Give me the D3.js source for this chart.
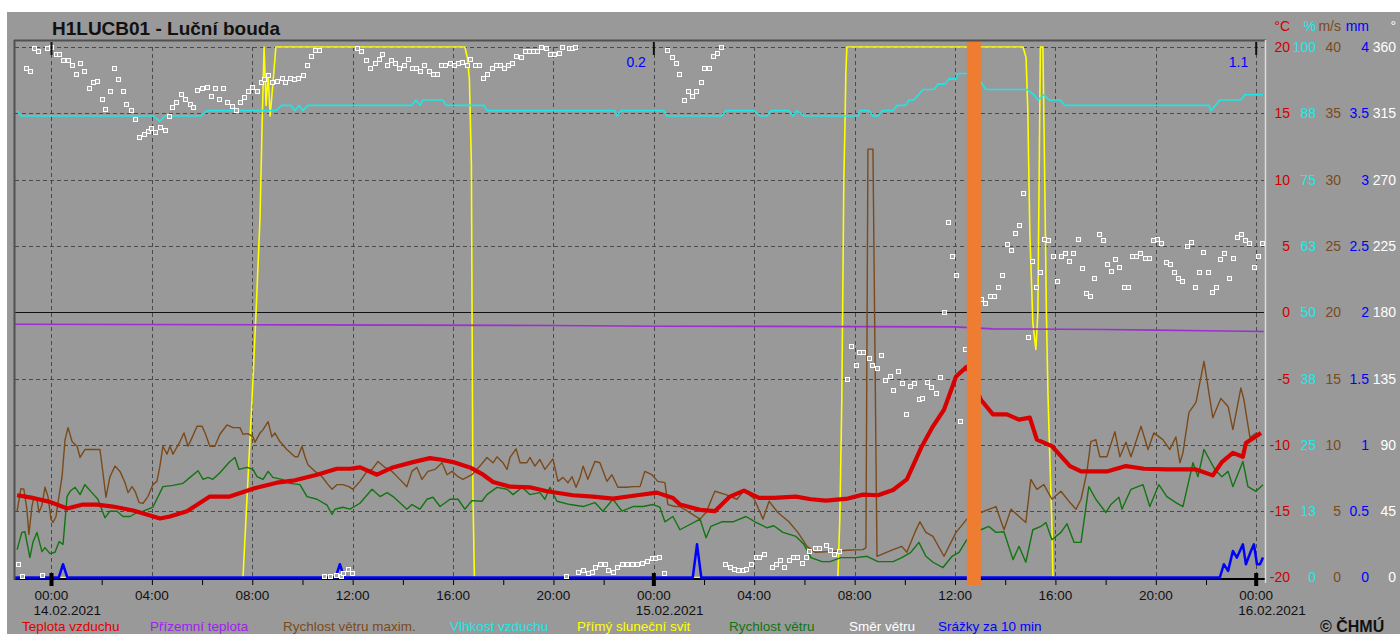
<!DOCTYPE html>
<html>
<head>
<meta charset="utf-8">
<script src="https://cdn.jsdelivr.net/npm/d3@7"></script>
<style>
html, body { margin: 0; padding: 0; background: #fff; }
svg { display: block; font-family: "Liberation Sans", Arial, sans-serif; }
</style>
</head>
<body>
<div id="chart"></div>
<script>
// data: [hours from 14.02.2021 00:00, value]
const airTemp = [[-1.37,-13.8],[-0.74,-14.0],[-0.06,-14.3],[0.62,-14.8],[1.25,-14.5],[1.81,-14.5],[2.45,-14.65],[3.25,-14.95],[3.8,-15.25],[4.32,-15.55],[4.72,-15.4],[5.4,-15.0],[6.31,-13.9],[7.1,-13.9],[8.03,-13.3],[8.98,-12.85],[9.62,-12.7],[10.58,-12.25],[11.37,-11.8],[11.9,-11.8],[12.3,-11.7],[12.97,-12.25],[13.6,-11.7],[14.4,-11.3],[15.08,-11.0],[15.48,-11.1],[16.0,-11.3],[16.67,-11.7],[17.2,-12.25],[17.59,-12.8],[18.27,-13.15],[19.06,-13.2],[19.74,-13.5],[20.78,-13.8],[21.57,-13.9],[22.37,-14.05],[23.33,-13.8],[24.12,-13.6],[24.76,-14.0],[25.04,-14.5],[25.84,-14.9],[26.43,-15.0],[27.03,-13.9],[27.59,-13.45],[28.19,-14.0],[28.78,-14.0],[29.66,-13.9],[30.26,-14.1],[30.86,-14.2],[31.73,-14.05],[32.33,-13.75],[32.93,-13.8],[33.53,-13.4],[34.08,-12.6],[34.68,-10.1],[35.12,-8.6],[35.56,-7.35],[36.04,-4.85],[36.47,-4.1],[37.03,-6.6],[37.51,-7.7],[38.07,-7.7],[38.55,-8.1],[38.98,-7.95],[39.26,-9.6],[39.86,-10.1],[40.58,-11.6],[41.02,-12.0],[42.05,-12.0],[42.81,-11.6],[43.53,-11.8],[44.44,-11.85],[45.6,-11.85],[46.27,-12.3],[46.63,-11.3],[47.07,-10.6],[47.47,-10.9],[47.59,-9.85],[48.19,-9.1]];

const groundTemp = [[-1.45,-0.9],[10,-0.95],[20,-1.0],[24,-1.05],[36,-1.1],[37.5,-1.25],[42,-1.3],[44,-1.35],[46,-1.4],[48.3,-1.45]];

const windMax = [[-1.37,5.0],[-1.22,6.7],[-1.1,6.65],[-0.98,5.15],[-0.9,3.25],[-0.78,5.35],[-0.7,6.1],[-0.58,5.9],[-0.5,4.9],[-0.38,5.45],[-0.26,6.8],[-0.14,6.1],[-0.02,4.4],[0.06,4.15],[0.18,4.6],[0.26,5.65],[0.42,7.6],[0.54,10.4],[0.66,11.3],[0.82,10.25],[1.02,9.9],[1.14,9.05],[1.33,9.65],[1.93,9.65],[2.05,7.9],[2.17,6.05],[2.33,7.6],[2.53,8.4],[2.73,8.0],[2.93,7.15],[3.05,6.4],[3.21,6.85],[3.33,6.5],[3.49,5.65],[3.65,5.6],[3.84,6.1],[4.04,7.0],[4.2,7.25],[4.32,8.4],[4.44,9.9],[4.6,9.3],[4.72,9.9],[4.84,9.3],[5.12,10.25],[5.28,10.9],[5.44,9.9],[5.6,10.55],[5.8,11.4],[6.0,11.4],[6.12,10.9],[6.31,9.9],[6.51,9.9],[6.71,10.8],[6.99,11.5],[7.23,11.3],[7.51,11.3],[7.63,10.8],[7.83,10.85],[8.03,10.6],[8.11,10.2],[8.31,10.9],[8.43,11.15],[8.63,11.75],[8.78,10.6],[8.9,10.9],[9.1,10.25],[9.38,9.65],[9.7,9.1],[9.82,9.1],[9.98,9.9],[10.1,9.1],[10.22,8.5],[10.5,8.0],[10.78,7.6],[11.02,7.0],[11.18,6.65],[11.37,7.0],[11.61,7.0],[11.85,6.85],[12.01,6.65],[12.29,7.25],[12.57,8.0],[12.77,8.15],[13.01,8.75],[13.29,8.3],[13.57,8.0],[13.8,7.55],[14.16,6.85],[14.36,8.0],[14.56,8.3],[14.76,7.4],[15.0,8.0],[15.28,8.15],[15.56,8.65],[15.76,7.75],[15.96,8.0],[16.2,7.6],[16.39,7.4],[16.75,7.75],[17.07,8.4],[17.35,9.05],[17.59,8.65],[17.75,9.1],[17.99,8.65],[18.15,8.15],[18.27,9.05],[18.51,9.7],[18.67,8.65],[18.94,8.65],[19.06,9.05],[19.26,8.4],[19.46,8.9],[19.66,8.15],[19.98,8.95],[20.18,7.25],[20.38,7.55],[20.58,7.15],[20.74,7.6],[20.9,6.8],[21.06,7.55],[21.18,8.4],[21.37,7.4],[21.65,8.75],[21.85,8.65],[22.13,7.25],[22.33,7.75],[22.57,6.8],[22.93,6.8],[23.17,6.85],[23.45,6.85],[23.64,8.0],[23.92,7.75],[24.16,7.25],[24.44,7.15],[24.56,5.5],[24.84,5.35],[25.04,5.35],[25.84,4.4],[26.08,4.9],[26.43,6.5],[26.87,6.25],[27.31,5.9],[27.59,6.55],[27.99,5.95],[28.35,4.4],[28.59,5.75],[28.94,4.9],[29.38,4.2],[29.74,3.4],[30.1,2.35],[30.42,1.9],[31.02,1.95],[31.73,2.05],[32.33,2.1],[32.45,2.25],[32.53,32.3],[32.73,32.3],[32.89,1.6],[33.53,2.1],[33.88,2.35],[34.08,1.9],[34.4,3.4],[34.6,4.2],[34.84,3.4],[35.12,3.1],[35.56,1.6],[36.04,3.4],[36.47,4.4],[37.03,4.9],[37.63,5.35],[37.95,3.6],[38.23,5.15],[38.55,4.6],[38.82,4.15],[39.02,7.4],[39.26,6.65],[39.54,7.0],[39.86,5.9],[40.22,6.5],[40.58,5.65],[40.82,5.15],[41.02,5.9],[41.25,7.9],[41.41,10.25],[41.61,10.4],[41.77,9.1],[42.05,9.1],[42.37,11.0],[42.57,9.1],[42.81,10.2],[43.01,9.1],[43.41,11.4],[43.69,9.65],[43.92,10.9],[44.28,10.4],[44.56,9.65],[44.8,10.6],[44.96,8.65],[45.08,9.4],[45.32,12.45],[45.6,13.2],[45.92,16.3],[46.27,12.05],[46.59,13.5],[46.88,12.9],[47.07,11.15],[47.39,14.3],[47.51,13.4],[47.75,10.55],[47.99,10.9]];

const windSpeed = [[-1.37,2.1],[-1.18,3.4],[-1.06,3.45],[-0.86,1.5],[-0.74,2.65],[-0.58,3.4],[-0.38,1.95],[-0.26,2.25],[-0.06,1.8],[0.14,1.9],[0.3,2.7],[0.46,2.5],[0.62,6.1],[0.74,6.5],[0.94,6.8],[1.14,6.25],[1.33,7.0],[1.61,6.4],[1.85,5.9],[2.13,4.5],[2.33,5.0],[2.61,5.0],[2.85,4.6],[3.13,4.6],[3.41,4.9],[3.65,5.0],[4.04,5.3],[4.44,6.85],[4.84,6.95],[5.24,7.1],[5.52,7.55],[5.84,8.05],[6.04,7.4],[6.24,7.55],[6.43,7.4],[6.71,7.9],[7.11,8.75],[7.31,9.05],[7.47,8.15],[7.79,8.3],[8.03,8.15],[8.19,7.6],[8.43,7.4],[8.63,8.0],[8.82,7.55],[9.18,7.4],[9.5,7.1],[9.9,7.0],[10.18,6.1],[10.58,5.9],[10.98,5.45],[11.18,4.75],[11.29,5.15],[11.61,5.3],[11.89,5.15],[12.29,5.6],[12.77,6.65],[13.09,6.1],[13.37,6.4],[13.61,6.1],[14.16,5.15],[14.36,5.5],[14.68,5.15],[14.96,5.9],[15.2,6.05],[15.48,5.35],[15.88,5.9],[16.2,5.9],[16.47,5.15],[16.75,5.8],[17.15,5.75],[17.35,6.25],[17.75,6.8],[18.15,6.65],[18.39,6.25],[18.75,6.8],[19.06,6.25],[19.46,6.4],[19.66,5.9],[19.86,6.8],[20.14,5.75],[20.66,5.5],[21.18,5.35],[21.65,5.65],[21.97,5.0],[22.37,5.9],[22.73,5.0],[23.17,5.35],[23.57,5.35],[23.96,5.5],[24.24,5.3],[24.44,4.2],[24.76,4.6],[25.04,3.6],[25.84,4.4],[26.08,3.0],[26.27,3.85],[26.71,4.2],[27.15,4.2],[27.67,4.6],[28.07,4.15],[28.51,3.75],[28.78,3.9],[29.14,3.4],[29.66,3.1],[29.98,2.5],[30.26,1.5],[30.7,1.2],[31.02,1.2],[31.45,1.5],[32.05,1.5],[32.49,1.6],[32.93,1.2],[33.53,1.2],[33.88,1.5],[34.24,1.9],[34.56,2.65],[34.84,1.6],[35.12,1.15],[35.52,0.75],[35.88,1.6],[36.16,1.9],[36.47,2.85],[37.03,3.6],[37.35,3.85],[37.63,3.4],[37.95,3.45],[38.31,1.35],[38.55,2.35],[38.82,1.15],[39.1,3.6],[39.42,3.85],[39.62,4.15],[39.86,2.85],[40.22,3.4],[40.46,4.05],[40.74,2.65],[41.02,2.65],[41.33,6.85],[41.61,5.9],[42.01,4.9],[42.21,5.5],[42.53,6.05],[42.65,5.15],[43.01,6.65],[43.49,7.0],[43.76,5.35],[44.12,7.0],[44.44,6.1],[44.8,5.65],[45.08,5.35],[45.48,8.65],[45.68,7.6],[45.92,9.65],[46.35,8.15],[46.63,7.6],[46.88,8.0],[47.07,6.85],[47.47,8.75],[47.67,6.85],[47.99,6.5],[48.27,7.0]];

const humidity = [[-1.37,88],[-1.22,87],[4.04,87],[4.32,86],[4.52,87],[5.96,87],[6.2,88],[8.94,88],[9.18,89],[9.54,89],[9.7,88],[9.86,89],[10.02,88],[10.22,89],[14.36,89],[14.52,90],[14.68,89],[14.8,90],[15.6,90],[15.72,89],[17.24,89],[17.35,88],[22.45,88],[22.53,87],[22.69,88],[24.4,88],[24.52,87],[26.71,87],[26.87,88],[27.99,88],[28.23,87],[28.51,87],[28.67,88],[29.38,88],[29.54,87],[29.7,88],[29.98,87],[32.13,87],[32.21,88],[32.57,88],[32.73,87],[32.93,87],[33.09,88],[33.53,88],[33.69,89],[34.04,89],[34.16,90],[34.36,90],[34.72,92],[35.16,92],[35.32,93],[35.6,93],[35.76,94],[36.04,94],[36.12,95],[36.44,95],[36.95,94],[37.23,92],[38.86,92],[39.14,91],[39.3,90],[39.54,91],[39.74,90],[40.18,90],[40.38,89],[46.12,89],[46.2,88],[46.55,90],[47.39,90],[47.55,91],[48.27,91]];

const sunshine = [[-1.45,0],[7.63,0],[7.79,1.5],[7.99,3.35],[8.15,5],[8.31,6.8],[8.39,8.5],[8.47,10],[8.55,8.9],[8.63,9.5],[8.71,8.7],[8.82,9.3],[8.94,10],[16.47,10],[16.57,9.8],[16.65,9.4],[16.73,7.8],[16.79,1.6],[16.85,0],[31.33,0],[31.41,1.1],[31.49,3.4],[31.57,7.5],[31.61,8.4],[31.65,9.5],[31.69,10],[38.71,10],[38.83,9.8],[38.9,8.8],[38.98,6.5],[39.1,4.8],[39.22,4.3],[39.3,5.0],[39.36,8],[39.4,10],[39.5,10],[39.56,8],[39.64,5],[39.7,3.5],[39.78,2.2],[39.86,1],[39.9,0],[46.5,0]];

const windDir = [[-1.33,9],[-1.18,1],[-1.02,346],[-0.86,344],[-0.7,359],[-0.54,357],[-0.38,2],[-0.18,359],[-0.02,360],[0.18,355],[0.3,355],[0.46,351],[0.66,351],[0.82,348],[0.98,342],[1.14,349],[1.29,344],[1.49,332],[1.65,336],[1.81,337],[2.01,325],[2.13,318],[2.33,330],[2.49,346],[2.65,338],[2.85,330],[2.97,321],[3.17,317],[3.33,311],[3.49,299],[3.69,301],[3.84,303],[3.96,305],[4.12,302],[4.32,306],[4.52,304],[4.68,313],[4.8,319],[4.96,323],[5.16,328],[5.32,325],[5.52,321],[5.64,319],[5.8,331],[6.0,332],[6.2,333],[6.35,327],[6.51,332],[6.67,325],[6.83,332],[6.99,323],[7.19,320],[7.35,317],[7.51,323],[7.67,326],[7.83,330],[7.99,333],[8.19,330],[8.35,336],[8.47,338],[8.63,341],[8.78,336],[8.98,337],[9.18,339],[9.3,336],[9.5,339],[9.66,338],[9.82,339],[10.02,341],[10.18,348],[10.34,354],[10.5,358],[10.66,358],[10.86,1],[11.1,1],[11.33,2],[11.53,1],[11.61,3],[11.81,6],[11.97,3],[12.17,359],[12.33,357],[12.53,351],[12.69,346],[12.89,349],[13.05,352],[13.17,355],[13.37,348],[13.53,351],[13.69,349],[13.84,346],[14.04,348],[14.2,352],[14.36,346],[14.52,346],[14.68,344],[14.84,348],[15.04,344],[15.2,342],[15.36,342],[15.52,348],[15.68,348],[15.88,349],[16.04,348],[16.2,349],[16.35,350],[16.55,348],[16.67,352],[16.87,348],[17.03,348],[17.19,339],[17.35,342],[17.55,346],[17.71,348],[17.87,348],[18.03,346],[18.19,348],[18.35,349],[18.51,354],[18.71,353],[18.86,357],[19.02,357],[19.18,357],[19.34,357],[19.5,360],[19.7,359],[19.86,355],[20.02,355],[20.22,356],[20.34,360],[20.5,1],[20.6,359],[20.74,359],[20.86,360],[20.98,4],[21.18,5],[21.37,3],[21.53,4],[21.65,7],[21.85,9],[22.05,9],[22.17,5],[22.37,4],[22.53,7],[22.73,9],[22.93,9],[23.13,9],[23.33,9],[23.53,10],[23.73,11],[23.92,13],[24.04,13],[24.2,14],[24.4,3],[24.52,358],[24.72,353],[24.88,349],[25.0,342],[25.2,324],[25.36,330],[25.52,327],[25.68,330],[25.88,336],[26.0,346],[26.2,346],[26.36,354],[26.51,356],[26.67,360],[26.83,9],[27.03,7],[27.19,6],[27.35,5],[27.55,5],[27.67,6],[27.87,9],[28.07,14],[28.19,14],[28.39,16],[28.71,7],[28.86,9],[29.02,12],[29.18,7],[29.38,12],[29.54,14],[29.7,14],[29.9,10],[30.06,14],[30.18,18],[30.42,20],[30.58,20],[30.86,22],[31.02,19],[31.18,16],[31.37,18],[31.69,135],[31.85,157],[32.05,144],[32.17,153],[32.33,153],[32.57,149],[32.69,144],[32.89,142],[33.05,151],[33.21,134],[33.41,137],[33.53,127],[33.73,140],[33.88,132],[34.04,111],[34.2,130],[34.36,132],[34.56,121],[34.68,122],[34.88,133],[35.04,129],[35.24,125],[35.4,136],[35.56,180],[35.72,241],[35.88,218],[36.04,205],[36.2,106],[36.4,155],[37.03,189],[37.19,186],[37.39,191],[37.55,191],[37.71,197],[37.87,205],[38.07,226],[38.23,222],[38.39,234],[38.55,239],[38.71,261],[38.9,163],[39.06,215],[39.22,197],[39.38,207],[39.54,230],[39.7,229],[39.9,218],[40.06,201],[40.22,218],[40.38,220],[40.54,215],[40.7,220],[40.9,230],[41.06,210],[41.22,193],[41.37,191],[41.53,203],[41.73,233],[41.89,229],[42.05,213],[42.21,208],[42.37,216],[42.53,211],[42.73,197],[42.89,197],[43.05,218],[43.21,218],[43.37,220],[43.57,217],[43.73,217],[43.88,229],[44.04,230],[44.2,227],[44.4,214],[44.56,213],[44.72,207],[44.88,203],[45.04,201],[45.24,225],[45.4,228],[45.56,197],[45.72,207],[45.88,221],[46.08,207],[46.24,194],[46.39,197],[46.55,216],[46.71,220],[46.91,203],[47.07,217],[47.23,231],[47.39,233],[47.55,229],[47.71,227],[47.91,211],[48.07,218],[48.23,227]];

const precip = [[-1.45,0],[0.29,0],[0.46,0.1],[0.63,0],[11.32,0],[11.49,0.1],[11.66,0],[25.55,0],[25.72,0.25],[25.89,0],[46.55,0],[46.71,0.1],[46.88,0.05],[47.07,0.2],[47.23,0.15],[47.47,0.25],[47.59,0.1],[47.79,0.2],[47.91,0.25],[48.03,0.1],[48.15,0.1],[48.27,0.15]];

const dayTotals = [[24,'0.2'],[48,'1.1']];
const markerHours = [36.47, 37.03];

const tempTicks = [20,15,10,5,0,-5,-10,-15,-20];
const humLabels = ['100','88','75','63','50','38','25','13','0'];
const windLabels = ['40','35','30','25','20','15','10','5','0'];
const precipLabels = ['4','3.5','3','2.5','2','1.5','1','0.5','0'];
const dirLabels = ['360','315','270','225','180','135','90','45','0'];
const unitLabels = ['°C','%','m/s','mm','°'];
const legendNames = ['Teplota vzduchu','Přízemní teplota','Rychlost větru maxim.','Vlhkost vzduchu','Přímý sluneční svit','Rychlost větru','Směr větru','Srážky za 10 min'];

// layout
const W = 1400, H = 634;
const yTop = 47, yBot = 577.5;
const base = Date.UTC(2021, 1, 14);
const toDate = h => new Date(base + h * 3600e3);

const svg = d3.select('#chart').append('svg')
  .attr('width', W).attr('height', H);

svg.append('rect').attr('x', 7).attr('y', 12)
  .attr('width', W - 7).attr('height', H - 12).attr('fill', '#999');

const x = d3.scaleUtc().domain([toDate(-1.454), toDate(48.35)]).range([15, 1265]);
const yT = d3.scaleLinear().domain([-20, 20]).range([yBot, yTop]);
const yWind = d3.scaleLinear().domain([0, 40]).range([yBot, yTop]);
const yHum = d3.scaleLinear().domain([0, 100]).range([yBot, yTop]);
const yPrec = d3.scaleLinear().domain([0, 4]).range([yBot, yTop]);
const yDir = d3.scaleLinear().domain([0, 360]).range([yBot, yTop]);
const ySun = d3.scaleLinear().domain([0, 10]).range([yBot, yTop]);

// title
svg.append('text').attr('x', 52).attr('y', 35)
  .style('font-size', '19px').style('font-weight', 'bold').attr('fill', '#111')
  .text('H1LUCB01 - Luční bouda');

// grid
const grid = svg.append('g').attr('shape-rendering', 'crispEdges');
grid.selectAll('.hg').data(tempTicks.filter(t => t !== 0 && t !== -20)).enter()
  .append('line')
  .attr('x1', 15).attr('x2', 1264)
  .attr('y1', d => Math.round(yT(d)) + 0.5).attr('y2', d => Math.round(yT(d)) + 0.5)
  .attr('stroke', '#4a4a4a').attr('stroke-dasharray', '4,3');
const vTicks = x.ticks(d3.utcHour.every(4));
grid.selectAll('.vg').data(vTicks).enter()
  .append('line')
  .attr('x1', d => Math.round(x(d)) + 0.5).attr('x2', d => Math.round(x(d)) + 0.5)
  .attr('y1', 47).attr('y2', 577)
  .attr('stroke', '#4a4a4a').attr('stroke-dasharray', '4,3');
grid.append('line')
  .attr('x1', 15).attr('x2', 1264)
  .attr('y1', Math.round(yT(0)) + 0.5).attr('y2', Math.round(yT(0)) + 0.5)
  .attr('stroke', '#111');

// series
const lineOf = ys => d3.line().x(d => x(toDate(d[0]))).y(d => ys(d[1]));
function drawLine(data, ys, color, width) {
  svg.append('path').datum(data)
    .attr('d', lineOf(ys))
    .attr('fill', 'none').attr('stroke', color).attr('stroke-width', width)
    .attr('stroke-linejoin', 'round');
}
drawLine(sunshine, ySun, '#ffff00', 1.6);
drawLine(groundTemp, yT, '#9c2fd0', 1.6);
drawLine(humidity, yHum, '#1fe6e6', 1.6);
drawLine(windMax, yWind, '#7b4a1a', 1.4);
drawLine(windSpeed, yWind, '#117511', 1.4);
drawLine(airTemp, yT, '#d80000', 4.2);

// axis line + precip
svg.append('line').attr('x1', 15).attr('x2', 1265).attr('y1', 579).attr('y2', 579)
  .attr('stroke', '#000').attr('stroke-width', 2);
drawLine(precip, yPrec, '#0000ff', 2.5);

// wind direction markers
svg.append('g').selectAll('rect').data(windDir).enter()
  .append('rect')
  .attr('x', d => Math.round(x(toDate(d[0]))) - 2)
  .attr('y', d => Math.round(yDir(d[1])) - 2)
  .attr('width', 4).attr('height', 4)
  .attr('fill', '#a8a8a8').attr('stroke', '#fff').attr('stroke-width', 1)
  .attr('shape-rendering', 'crispEdges');

// orange marker
svg.append('rect')
  .attr('x', x(toDate(markerHours[0]))).attr('y', 40)
  .attr('width', x(toDate(markerHours[1])) - x(toDate(markerHours[0])))
  .attr('height', 545)
  .attr('fill', '#ee7d31');

// frame
svg.append('line').attr('x1', 14).attr('x2', 1266).attr('y1', 40.5).attr('y2', 40.5)
  .attr('stroke', '#505050').attr('stroke-width', 2);
svg.append('line').attr('x1', 14.5).attr('x2', 14.5).attr('y1', 40).attr('y2', 580)
  .attr('stroke', '#505050').attr('stroke-width', 2);
svg.append('line').attr('x1', 1265.5).attr('x2', 1265.5).attr('y1', 40).attr('y2', 583)
  .attr('stroke', '#dcdcdc').attr('stroke-width', 1.5);

// x axis ticks
const xAxis = d3.axisBottom(x).ticks(d3.utcHour.every(2)).tickSize(6).tickFormat('');
const gx = svg.append('g').attr('transform', 'translate(0,579)').call(xAxis);
gx.select('.domain').remove();
gx.selectAll('line').attr('stroke', '#000');

const midnights = x.ticks(d3.utcDay.every(1));
svg.selectAll('.mt').data(midnights).enter().append('rect')
  .attr('x', d => x(d) - 2).attr('y', 573).attr('width', 4).attr('height', 13).attr('fill', '#000');
svg.selectAll('.mtop').data(midnights).enter().append('rect')
  .attr('x', d => x(d) - 1).attr('y', 42).attr('width', 2).attr('height', 13).attr('fill', '#111');

const fmtTime = d3.utcFormat('%H:%M');
const fmtDate = d3.utcFormat('%d.%m.%Y');
svg.selectAll('.xl').data(vTicks).enter().append('text')
  .attr('x', d => x(d)).attr('y', 600)
  .attr('text-anchor', 'middle').style('font-size', '13.5px').attr('fill', '#111')
  .text(fmtTime);
svg.selectAll('.dl').data(midnights).enter().append('text')
  .attr('x', d => x(d) - 18).attr('y', 615)
  .style('font-size', '13.5px').attr('fill', '#111')
  .text(fmtDate);

// day totals
svg.selectAll('.tot').data(dayTotals).enter().append('text')
  .attr('x', d => x(toDate(d[0])) - 8).attr('y', 67)
  .attr('text-anchor', 'end').style('font-size', '14px').attr('fill', '#0000ff')
  .text(d => d[1]);

// right axes
const rightCols = [
  {scale: yT, vals: tempTicks, labels: tempTicks.map(String), color: '#d00000', x: 1290},
  {scale: yHum, vals: d3.range(100, -1, -12.5), labels: humLabels, color: '#22e8e8', x: 1316},
  {scale: yWind, vals: d3.range(40, -1, -5), labels: windLabels, color: '#7b4a1a', x: 1341},
  {scale: yPrec, vals: d3.range(4, -0.1, -0.5), labels: precipLabels, color: '#0000ff', x: 1369},
  {scale: yDir, vals: d3.range(360, -1, -45), labels: dirLabels, color: '#ffffff', x: 1396}
];
rightCols.forEach((c, i) => {
  const ax = d3.axisRight(c.scale).tickValues(c.vals).tickSize(0).tickPadding(0)
    .tickFormat((d, j) => c.labels[j]);
  const g = svg.append('g').attr('transform', `translate(${c.x},0)`).call(ax);
  g.select('.domain').remove();
  g.selectAll('text').attr('text-anchor', 'end').attr('fill', c.color)
    .style('font-size', '14px').style('font-family', '"Liberation Sans", Arial, sans-serif');
  svg.append('text').attr('x', c.x).attr('y', 31)
    .attr('text-anchor', 'end').style('font-size', '14px').attr('fill', c.color)
    .text(unitLabels[i]);
});

// legend
const legendColors = ['#e00000', '#a020f0', '#7b4a1a', '#1fe6e6', '#ffff00', '#117511', '#ffffff', '#0000ff'];
const legendX = [22, 150, 283, 450, 577, 729, 849, 938];
svg.selectAll('.leg').data(legendNames).enter().append('text')
  .attr('x', (d, i) => legendX[i]).attr('y', 631)
  .style('font-size', '13.5px').attr('fill', (d, i) => legendColors[i])
  .text(d => d);

svg.append('text').attr('x', 1320).attr('y', 632)
  .style('font-size', '16px').style('font-weight', 'bold').attr('fill', '#111')
  .text('© ČHMÚ');
</script>
</body>
</html>
